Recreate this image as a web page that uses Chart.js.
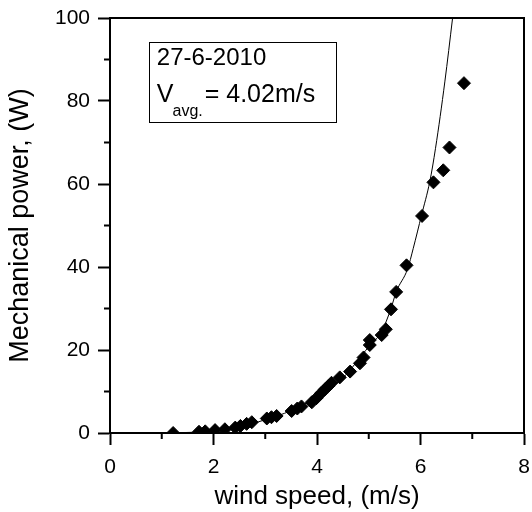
<!DOCTYPE html>
<html>
<head>
<meta charset="utf-8">
<script src="https://cdn.jsdelivr.net/npm/chart.js@4/dist/chart.umd.min.js"></script>
<style>
  html, body { margin: 0; padding: 0; background: #fff; }
  #wrap { width: 532px; height: 512px; position: relative; }
</style>
</head>
<body>
<div id="wrap"><canvas id="myChart"></canvas></div>
<script>
// measured points (wind speed m/s, power W)
const speed = [1.22, 1.72, 1.84, 2.03, 2.22, 2.42, 2.52, 2.64, 2.74, 3.03, 3.12, 3.22, 3.51, 3.62, 3.70, 3.90, 3.99, 4.08, 4.15, 4.22, 4.28, 4.44, 4.64, 4.83, 4.90, 5.02, 5.02, 5.25, 5.33, 5.43, 5.53, 5.73, 6.03, 6.25, 6.44, 6.56, 6.84];
const power = [0.0, 0.3, 0.4, 0.7, 0.9, 1.3, 1.7, 2.2, 2.6, 3.5, 3.8, 4.1, 5.3, 5.9, 6.4, 7.4, 8.4, 9.6, 10.5, 11.3, 12.1, 13.4, 14.8, 16.8, 18.2, 21.2, 22.4, 23.6, 25.0, 29.8, 34.0, 40.4, 52.3, 60.4, 63.3, 68.8, 84.3];

// fitted curve
const fitSpeed = [1.22, 1.72, 2.0, 2.5, 3.0, 3.5, 4.0, 4.5, 5.0, 5.25, 5.43, 5.53, 5.75, 5.86, 6.02, 6.18, 6.29, 6.47, 6.62];
const fitPower = [0.1, 0.2, 0.6, 1.5, 3.2, 5.4, 8.7, 13.3, 20.8, 24.5, 30.0, 34.0, 39.5, 44.5, 52.5, 60.6, 68.6, 84.6, 100];

const xTicks = [0, 2, 4, 6, 8];
const yTicks = [0, 20, 40, 60, 80, 100];
const xMinor = [1, 3, 5, 7];
const yMinor = [10, 30, 50, 70, 90];

const FONT = "'Liberation Sans', Arial, sans-serif";

const pts = speed.map((v, i) => ({x: v, y: power[i]}));
const fit = fitSpeed.map((v, i) => ({x: v, y: fitPower[i]}));

// frame on top/right, minor ticks and the date box
const extras = {
    id: 'extras',
    afterDraw(chart) {
        const ctx = chart.ctx;
        const a = chart.chartArea;
        const xs = chart.scales.x, ys = chart.scales.y;
        ctx.save();
        ctx.strokeStyle = '#000';
        ctx.lineWidth = 2;
        ctx.beginPath();
        ctx.moveTo(a.left, a.top);
        ctx.lineTo(a.right, a.top);
        ctx.lineTo(a.right, a.bottom);
        ctx.stroke();
        ctx.beginPath();
        xMinor.forEach(v => {
            const px = xs.getPixelForValue(v);
            ctx.moveTo(px, a.bottom);
            ctx.lineTo(px, a.bottom + 6);
        });
        yMinor.forEach(v => {
            const py = ys.getPixelForValue(v);
            ctx.moveTo(a.left, py);
            ctx.lineTo(a.left - 6, py);
        });
        ctx.stroke();

        // date / average speed box
        const bx0 = xs.getPixelForValue(0.75), bx1 = xs.getPixelForValue(4.37);
        const by0 = ys.getPixelForValue(94.2), by1 = ys.getPixelForValue(74.9);
        ctx.lineWidth = 1;
        ctx.strokeRect(Math.round(bx0) + 0.5, Math.round(by0) + 0.5, Math.round(bx1 - bx0), Math.round(by1 - by0));
        ctx.fillStyle = '#000';
        ctx.textBaseline = 'alphabetic';
        ctx.textAlign = 'left';
        ctx.font = '24px ' + FONT;
        const tx = bx0 + 8;
        ctx.fillText('27-6-2010', tx, by0 + 23);
        ctx.font = '25px ' + FONT;
        ctx.fillText('V', tx, by0 + 60);
        const vw = ctx.measureText('V').width;
        ctx.font = '16px ' + FONT;
        ctx.fillText('avg.', tx + vw - 1, by0 + 74);
        const sw = ctx.measureText('avg.').width;
        ctx.font = '25px ' + FONT;
        ctx.fillText('= 4.02m/s', tx + vw + sw + 1, by0 + 60);
        ctx.restore();
    }
};

const config = {
    type: 'scatter',
    data: {
        datasets: [
            {
                label: 'measured',
                data: pts,
                pointStyle: 'rectRot',
                pointRadius: 6.5,
                pointBackgroundColor: '#000',
                pointBorderColor: '#000',
                pointBorderWidth: 1,
                showLine: false,
            },
            {
                label: 'fit',
                data: fit,
                showLine: true,
                borderColor: '#000',
                borderWidth: 1,
                pointRadius: 0,
                cubicInterpolationMode: 'monotone',
            },
        ]
    },
    options: {
        responsive: true,
        maintainAspectRatio: false,
        animation: false,
        layout: {
            padding: {top: 18, right: 8, left: 0, bottom: 0}
        },
        plugins: {
            legend: {display: false},
            tooltip: {enabled: false},
            title: {display: false}
        },
        scales: {
            x: {
                type: 'linear',
                min: 0,
                max: 8,
                afterFit(scale) {
                    scale.height = 79;
                    scale.paddingLeft = 0;
                    scale.paddingRight = 0;
                },
                afterBuildTicks(scale) { scale.ticks = xTicks.map(v => ({value: v})); },
                border: {color: '#000', width: 2},
                grid: {
                    drawOnChartArea: false,
                    drawTicks: true,
                    tickLength: 12,
                    tickWidth: 2,
                    tickColor: '#000'
                },
                ticks: {
                    color: '#000',
                    padding: 10,
                    font: {family: FONT, size: 21}
                },
                title: {
                    display: true,
                    text: 'wind speed, (m/s)',
                    color: '#000',
                    font: {family: FONT, size: 26},
                    padding: {top: 0, bottom: 0}
                }
            },
            y: {
                type: 'linear',
                min: 0,
                max: 100,
                afterFit(scale) {
                    scale.width = 110;
                    scale.paddingTop = 0;
                    scale.paddingBottom = 0;
                },
                afterBuildTicks(scale) { scale.ticks = yTicks.map(v => ({value: v})); },
                border: {color: '#000', width: 2},
                grid: {
                    drawOnChartArea: false,
                    drawTicks: true,
                    tickLength: 12,
                    tickWidth: 2,
                    tickColor: '#000'
                },
                ticks: {
                    color: '#000',
                    padding: 8,
                    font: {family: FONT, size: 21}
                },
                title: {
                    display: true,
                    text: 'Mechanical power, (W)',
                    color: '#000',
                    font: {family: FONT, size: 27},
                    padding: {top: 4, bottom: 0}
                }
            }
        }
    },
    plugins: [extras]
};

const myChart = new Chart(document.getElementById('myChart'), config);
</script>
</body>
</html>
